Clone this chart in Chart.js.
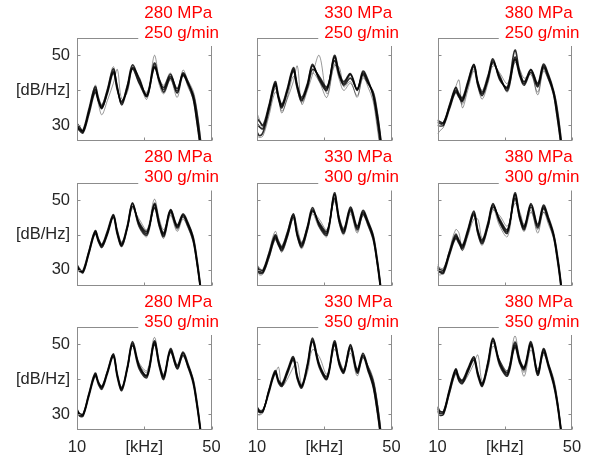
<!DOCTYPE html>
<html>
<head>
<meta charset="utf-8">
<script src="https://cdn.jsdelivr.net/npm/chart.js@4.4.0/dist/chart.umd.min.js"></script>
<style>
  html, body { margin: 0; padding: 0; background: #fff; }
  #wrap { position: relative; width: 590px; height: 461px; overflow: hidden; }
  #wrap canvas { position: absolute; left: 0; top: 0; }
</style>
</head>
<body>
<div id="wrap"></div>
<script>
'use strict';

// frequency points (kHz) shared by every spectrum
const freqKHz = [10, 10.8, 11.8, 13.5, 15.4, 16.4, 17.4, 19, 20.8, 22, 23.3, 25, 26.5, 28.5, 30.8, 33, 34.5, 35.8, 37.8, 39.8, 41.5, 43, 44.5, 45.5, 46.5, 47.5];

const xTicks = [10, 30, 50];
const xTickLabels = ['10', '[kHz]', '50'];
const yTicks = [30, 40, 50];
const yTickLabels = ['30', '[dB/Hz]', '50'];

const pressures = ['280 MPa', '330 MPa', '380 MPa'];
const flowRates = ['250 g/min', '300 g/min', '350 g/min'];

// spectra in dB/Hz, first three are the dense dark band, last two the lighter outliers
const spec280at250 = [
  [30.0, 28.8, 28.6, 34.5, 41.0, 37.5, 35.5, 40.0, 46.2, 40.5, 36.3, 41.5, 47.3, 43.0, 38.8, 47.8, 43.0, 40.8, 44.6, 39.8, 45.0, 42.5, 38.5, 33.0, 26.0, 18],
  [30.5, 29.5, 28.2, 33.8, 40.2, 37.0, 34.8, 39.5, 45.5, 41.0, 35.8, 41.0, 46.5, 43.5, 38.2, 46.8, 42.5, 40.2, 44.0, 40.5, 44.6, 42.0, 39.0, 34.5, 27.5, 19],
  [29.5, 28.5, 27.8, 33.0, 39.5, 36.8, 35.0, 39.0, 45.0, 40.0, 36.8, 40.5, 46.2, 42.0, 38.5, 46.5, 42.8, 39.5, 43.5, 39.3, 44.2, 41.8, 37.8, 32.0, 25.0, 17],
  [30.2, 29.0, 28.0, 33.5, 40.5, 36.0, 33.0, 37.0, 42.0, 46.0, 37.5, 39.5, 46.8, 42.5, 37.5, 50.0, 43.5, 41.5, 45.0, 39.0, 45.8, 42.8, 40.0, 35.5, 28.5, 20],
  [29.8, 28.2, 28.5, 34.0, 41.5, 38.2, 36.0, 40.5, 46.8, 40.8, 37.0, 41.8, 46.0, 42.2, 39.5, 47.2, 41.5, 39.0, 43.0, 38.0, 44.5, 41.0, 37.5, 31.5, 24.5, 16]
];
const spec330at250 = [
  [30.5, 29.5, 29.0, 35.0, 42.0, 38.0, 35.5, 40.0, 46.0, 40.5, 37.0, 41.5, 47.0, 43.5, 40.5, 49.5, 44.5, 42.0, 44.5, 40.0, 45.0, 42.5, 39.0, 34.0, 27.5, 19],
  [28.0, 27.0, 28.0, 34.0, 41.5, 37.5, 35.0, 39.5, 45.5, 41.0, 37.5, 41.0, 46.0, 44.0, 41.0, 48.5, 44.0, 41.5, 43.5, 40.5, 44.5, 42.0, 39.5, 35.0, 28.5, 20],
  [32.0, 31.0, 30.0, 35.5, 42.5, 38.5, 36.0, 40.5, 46.5, 41.5, 38.0, 42.0, 47.5, 43.0, 40.0, 50.0, 45.0, 42.5, 44.8, 40.2, 45.5, 43.0, 38.5, 33.0, 26.0, 18],
  [27.0, 26.5, 27.0, 32.5, 39.5, 38.0, 34.0, 37.5, 42.5, 47.0, 36.0, 40.0, 44.5, 50.0, 39.0, 47.0, 46.5, 41.0, 42.5, 38.0, 44.0, 41.0, 37.0, 31.0, 24.0, 16],
  [33.5, 31.5, 29.5, 34.5, 40.5, 37.5, 33.5, 38.0, 44.0, 40.0, 36.5, 40.5, 45.0, 42.5, 38.0, 47.5, 43.0, 40.0, 42.0, 38.5, 43.5, 42.0, 40.0, 36.0, 29.0, 21]
];
const spec380at250 = [
  [31.0, 30.5, 30.5, 35.0, 40.0, 38.5, 37.2, 42.0, 47.3, 42.0, 39.0, 43.5, 48.5, 43.5, 40.6, 49.5, 44.5, 42.0, 45.8, 41.5, 47.0, 44.0, 39.5, 34.0, 27.0, 18],
  [30.0, 29.8, 30.0, 34.5, 39.5, 38.0, 36.8, 41.5, 46.8, 41.5, 38.5, 43.0, 48.0, 44.0, 40.0, 48.8, 44.0, 41.5, 45.2, 41.0, 46.5, 43.5, 39.0, 33.0, 26.0, 17],
  [31.5, 31.0, 30.8, 35.5, 40.8, 39.0, 37.8, 42.5, 47.5, 42.5, 39.5, 44.0, 49.0, 43.0, 41.0, 51.5, 45.0, 42.5, 46.0, 42.0, 47.5, 44.5, 40.0, 35.0, 28.0, 19],
  [27.5, 28.5, 29.5, 36.0, 41.0, 43.0, 35.0, 40.0, 45.5, 41.0, 37.5, 42.0, 47.0, 44.5, 39.5, 48.0, 45.5, 42.5, 45.0, 38.7, 45.5, 43.0, 40.0, 36.0, 29.0, 20],
  [30.5, 30.0, 31.0, 35.5, 40.5, 38.0, 36.0, 41.0, 46.0, 42.5, 40.0, 44.5, 47.5, 45.0, 42.0, 49.0, 46.0, 43.5, 44.5, 39.5, 46.0, 43.0, 38.5, 32.5, 25.5, 17]
];
const spec280at300 = [
  [31.0, 29.8, 29.5, 35.0, 41.0, 38.5, 36.9, 40.5, 45.5, 40.5, 37.1, 42.5, 48.9, 43.0, 40.5, 48.6, 43.0, 40.0, 47.0, 42.4, 45.7, 43.0, 39.0, 33.5, 26.5, 18],
  [31.5, 30.2, 29.2, 34.5, 40.5, 38.0, 36.5, 40.0, 45.0, 40.0, 36.8, 42.0, 48.2, 43.5, 41.0, 47.8, 42.5, 39.5, 46.5, 42.0, 45.2, 42.5, 38.5, 33.0, 26.0, 17],
  [30.8, 29.5, 29.8, 35.2, 41.2, 38.8, 37.2, 41.0, 45.8, 41.0, 37.5, 42.8, 49.2, 42.5, 40.0, 49.0, 43.5, 40.5, 47.2, 42.8, 46.0, 43.5, 39.5, 34.0, 27.0, 19],
  [31.2, 30.0, 29.5, 34.8, 40.8, 38.2, 36.8, 40.2, 45.2, 41.5, 38.0, 42.0, 47.5, 44.5, 41.5, 50.2, 44.5, 41.5, 46.0, 41.5, 45.5, 43.2, 40.0, 35.0, 28.0, 20],
  [31.0, 29.6, 29.0, 34.2, 40.2, 37.8, 36.2, 40.0, 45.0, 40.2, 36.5, 41.8, 48.0, 42.0, 39.5, 47.5, 42.0, 39.0, 45.5, 41.0, 44.5, 42.0, 38.0, 32.5, 25.5, 17]
];
const spec330at300 = [
  [30.5, 29.5, 29.5, 34.0, 39.5, 37.5, 36.0, 40.0, 45.5, 40.0, 37.0, 42.0, 47.2, 43.0, 40.5, 51.5, 44.0, 41.0, 47.5, 42.0, 46.5, 43.5, 39.5, 34.0, 27.0, 18],
  [30.0, 29.0, 29.2, 33.5, 39.0, 37.0, 35.5, 39.5, 45.0, 39.5, 36.5, 41.5, 46.8, 43.5, 41.0, 50.5, 43.5, 40.5, 47.0, 41.5, 46.0, 43.0, 39.0, 33.5, 26.5, 17],
  [31.0, 30.0, 30.0, 34.5, 40.0, 38.0, 36.5, 40.5, 46.0, 40.5, 37.5, 42.5, 47.8, 42.5, 40.0, 52.0, 44.5, 41.5, 48.0, 42.5, 47.0, 44.0, 40.0, 34.5, 27.5, 19],
  [31.5, 30.5, 29.8, 35.0, 41.0, 38.5, 37.0, 41.0, 46.0, 42.0, 38.0, 42.5, 46.5, 44.5, 41.5, 49.5, 45.0, 42.0, 46.5, 41.0, 45.5, 43.5, 40.5, 35.5, 28.5, 20],
  [29.5, 28.5, 28.8, 33.0, 38.5, 37.0, 35.0, 39.0, 44.5, 39.5, 36.0, 41.0, 46.0, 42.0, 39.5, 50.0, 43.0, 40.0, 46.0, 40.5, 45.5, 42.5, 38.5, 33.0, 25.5, 17]
];
const spec380at300 = [
  [30.5, 29.5, 29.5, 34.5, 39.5, 38.0, 36.5, 41.0, 46.3, 41.0, 38.0, 43.0, 48.6, 44.0, 41.0, 51.5, 45.0, 42.0, 48.6, 42.5, 48.0, 44.5, 40.0, 34.5, 27.5, 18],
  [30.0, 29.2, 29.0, 34.0, 39.0, 37.5, 36.0, 40.5, 45.8, 40.5, 37.5, 42.5, 48.0, 44.5, 41.5, 50.5, 44.5, 41.5, 48.0, 42.0, 47.5, 44.0, 39.5, 34.0, 27.0, 17],
  [31.0, 30.0, 30.0, 35.0, 40.0, 38.5, 37.0, 41.5, 46.8, 41.5, 38.5, 43.5, 49.0, 43.5, 40.5, 52.0, 45.5, 42.5, 49.0, 43.0, 48.5, 45.0, 40.5, 35.0, 28.0, 19],
  [29.0, 28.5, 29.5, 35.5, 41.5, 40.5, 35.5, 39.5, 44.5, 44.5, 39.0, 42.0, 47.0, 45.5, 42.5, 49.0, 46.5, 43.0, 47.0, 40.5, 46.5, 44.0, 40.5, 36.0, 29.0, 20],
  [31.5, 30.5, 30.5, 35.0, 40.5, 38.0, 35.5, 40.0, 45.5, 40.0, 37.0, 42.0, 47.5, 42.5, 39.5, 50.0, 44.0, 41.0, 46.5, 41.5, 46.5, 43.0, 39.0, 33.0, 26.0, 17]
];
const spec280at350 = [
  [31.2, 30.0, 29.8, 35.5, 41.5, 39.0, 37.7, 42.0, 47.0, 41.0, 37.1, 43.5, 50.3, 43.6, 41.2, 50.5, 44.0, 40.5, 48.4, 43.5, 47.5, 44.0, 39.5, 34.0, 27.0, 18],
  [31.0, 29.5, 29.5, 35.0, 41.0, 38.5, 37.2, 41.5, 46.5, 40.5, 36.8, 43.0, 49.8, 43.0, 40.5, 50.0, 43.5, 40.0, 48.0, 43.0, 47.0, 43.5, 39.0, 33.5, 26.5, 17],
  [31.5, 30.2, 30.0, 35.8, 41.8, 39.2, 38.0, 42.2, 47.3, 41.5, 37.5, 43.8, 50.8, 44.0, 41.0, 51.0, 44.5, 41.0, 48.8, 44.0, 47.8, 44.5, 40.0, 34.5, 27.5, 19],
  [31.0, 30.2, 30.2, 35.5, 41.2, 39.0, 37.5, 41.8, 46.8, 41.2, 37.8, 43.0, 49.5, 44.7, 42.5, 52.0, 45.0, 41.5, 47.5, 43.0, 46.5, 44.0, 40.5, 35.5, 28.5, 20],
  [30.8, 29.8, 29.6, 35.2, 41.0, 38.8, 37.5, 41.8, 46.5, 41.0, 37.5, 43.2, 49.5, 44.2, 42.0, 51.0, 44.0, 40.8, 47.8, 43.5, 46.8, 43.5, 39.5, 34.0, 27.0, 18]
];
const spec330at350 = [
  [31.7, 30.7, 31.0, 36.5, 42.2, 39.5, 38.4, 42.0, 46.0, 40.5, 37.9, 44.0, 51.3, 44.1, 40.3, 50.5, 44.5, 42.2, 49.6, 42.2, 47.0, 43.0, 38.5, 33.0, 26.0, 17],
  [32.2, 31.0, 31.2, 36.0, 41.8, 39.0, 38.0, 41.5, 45.5, 40.0, 37.5, 43.5, 50.8, 43.5, 40.0, 50.0, 44.0, 41.8, 49.0, 41.8, 46.5, 42.5, 38.0, 32.5, 25.5, 16],
  [31.2, 30.5, 30.8, 36.8, 42.5, 39.8, 38.8, 42.5, 46.5, 41.0, 38.2, 44.5, 51.8, 44.5, 40.8, 51.0, 45.0, 42.5, 50.0, 42.8, 47.5, 43.5, 39.5, 34.5, 27.5, 18],
  [30.0, 29.8, 30.5, 37.0, 41.5, 43.5, 38.0, 40.0, 43.5, 45.0, 38.5, 42.0, 48.5, 46.5, 41.5, 48.5, 45.5, 43.0, 47.5, 41.0, 46.0, 44.0, 40.5, 35.5, 28.5, 20],
  [32.0, 31.2, 31.5, 36.5, 42.0, 39.5, 38.5, 42.2, 46.2, 40.8, 38.0, 43.8, 50.5, 43.8, 41.0, 49.5, 44.2, 42.0, 48.5, 42.5, 46.8, 43.8, 40.0, 35.0, 28.0, 19]
];
const spec380at350 = [
  [31.7, 30.3, 30.5, 36.5, 42.7, 40.0, 39.3, 42.5, 46.0, 41.5, 38.4, 44.5, 51.5, 44.6, 41.5, 49.8, 45.0, 43.2, 50.3, 41.7, 48.4, 44.0, 39.0, 34.0, 27.0, 18],
  [31.0, 29.8, 30.0, 36.0, 42.0, 39.5, 38.8, 42.0, 45.5, 41.0, 38.0, 44.0, 51.0, 44.0, 41.0, 49.2, 44.5, 42.8, 49.8, 41.2, 47.8, 43.5, 38.5, 33.5, 26.5, 17],
  [32.2, 30.8, 30.8, 37.0, 43.0, 40.5, 39.8, 43.0, 46.5, 42.0, 38.8, 45.0, 51.8, 45.0, 42.0, 50.5, 45.5, 43.5, 50.8, 42.2, 48.8, 44.5, 39.5, 34.5, 27.5, 19],
  [30.5, 29.5, 30.0, 35.5, 41.5, 40.5, 39.0, 41.0, 44.5, 47.0, 39.5, 43.0, 49.5, 45.5, 42.5, 52.4, 45.0, 40.9, 48.5, 41.0, 47.0, 44.0, 40.0, 35.0, 28.0, 19],
  [31.5, 30.8, 31.0, 36.8, 42.5, 41.0, 39.5, 42.8, 46.5, 42.0, 39.0, 45.0, 50.5, 45.5, 42.5, 51.0, 46.0, 42.0, 49.5, 43.0, 47.5, 44.5, 40.5, 35.5, 28.5, 20]
];

// rows = flow rate, columns = pressure
const spectra = [
  [spec280at250, spec330at250, spec380at250],
  [spec280at300, spec330at300, spec380at300],
  [spec280at350, spec330at350, spec380at350]
];

const W = 590;
const H = 461;
const boxLeft = [77, 257, 437.5];
const boxTop = [38, 182.5, 327];
const boxW = 134.5;
const boxH = 103;
const yAxisW = 74;
const xAxisH = 30;
const fontFamily = '"Liberation Sans", Arial, Helvetica, sans-serif';
const tickFont = {family: fontFamily, size: 16.5};
const tickColor = '#262626';

// box with inward ticks plus the two-line red title on a white patch
const framePlugin = {
  id: 'frame',
  afterDraw(chart, args, opts) {
    const ctx = chart.ctx;
    const a = chart.chartArea;
    const xs = chart.scales.x;
    const ys = chart.scales.y;
    const l = Math.round(a.left) + 0.5;
    const t = Math.round(a.top) + 0.5;
    const r = Math.round(a.right) - 0.5;
    const b = Math.round(a.bottom) - 0.5;
    ctx.save();
    ctx.strokeStyle = '#8c8c8c';
    ctx.lineWidth = 1;
    ctx.strokeRect(l, t, r - l, b - t);
    ctx.beginPath();
    xTicks.forEach(v => {
      const px = Math.round(xs.getPixelForValue(v)) + 0.5;
      ctx.moveTo(px, b); ctx.lineTo(px, b - 3);
      ctx.moveTo(px, t); ctx.lineTo(px, t + 3);
    });
    yTicks.forEach(v => {
      const py = Math.round(ys.getPixelForValue(v)) + 0.5;
      ctx.moveTo(l, py); ctx.lineTo(l + 3, py);
      ctx.moveTo(r, py); ctx.lineTo(r - 3, py);
    });
    ctx.stroke();

    const cx = (a.left + a.right) / 2;
    ctx.font = '17px ' + fontFamily;
    const wMax = Math.max(...opts.lines.map(s => ctx.measureText(s).width));
    ctx.fillStyle = '#ffffff';
    ctx.fillRect(cx - 6, a.top - 36, wMax + 8, 44);
    ctx.fillStyle = '#ff0000';
    ctx.textAlign = 'left';
    ctx.textBaseline = 'middle';
    opts.lines.forEach((s, i) => ctx.fillText(s, cx, a.top - 25 + i * 20));
    ctx.restore();
  }
};

function makeDataset(vals, k) {
  const dark = k < 3;
  return {
    data: freqKHz.map((f, i) => ({x: f, y: vals[i]})),
    borderColor: dark ? 'rgba(0,0,0,0.82)' : 'rgba(0,0,0,0.45)',
    borderWidth: dark ? 1.6 : 0.9,
    pointRadius: 0,
    fill: false,
    tension: 0.35,
    clip: 0
  };
}

function drawPanel(row, col) {
  const canvas = document.createElement('canvas');
  canvas.width = W;
  canvas.height = H;
  canvas.style.width = W + 'px';
  canvas.style.height = H + 'px';
  document.getElementById('wrap').appendChild(canvas);

  const left = boxLeft[col];
  const top = boxTop[row];

  new Chart(canvas.getContext('2d'), {
    type: 'line',
    data: {
      datasets: spectra[row][col].map(makeDataset)
    },
    options: {
      responsive: false,
      devicePixelRatio: 1,
      animation: false,
      events: [],
      layout: {
        padding: {
          left: left - yAxisW,
          top: top,
          right: W - (left + boxW),
          bottom: H - (top + boxH) - xAxisH
        }
      },
      plugins: {
        legend: {display: false},
        tooltip: {enabled: false},
        frame: {lines: [pressures[col], flowRates[row]]}
      },
      scales: {
        x: {
          type: 'linear',
          min: 10,
          max: 50,
          grid: {display: false, drawTicks: false},
          border: {display: false},
          afterBuildTicks: s => { s.ticks = xTicks.map(v => ({value: v})); },
          afterFit: s => { s.height = xAxisH; },
          ticks: {
            display: row === 2,
            autoSkip: false,
            maxRotation: 0,
            padding: 8,
            color: tickColor,
            font: tickFont,
            callback: v => xTickLabels[xTicks.indexOf(v)]
          }
        },
        y: {
          type: 'linear',
          min: 25.5,
          max: 55,
          grid: {display: false, drawTicks: false},
          border: {display: false},
          afterBuildTicks: s => { s.ticks = yTicks.map(v => ({value: v})); },
          afterFit: s => { s.width = yAxisW; },
          ticks: {
            display: col === 0,
            autoSkip: false,
            padding: 7,
            color: tickColor,
            font: tickFont,
            callback: v => yTickLabels[yTicks.indexOf(v)]
          }
        }
      }
    },
    plugins: [framePlugin]
  });
}

for (let r = 0; r < 3; r++) {
  for (let c = 0; c < 3; c++) {
    drawPanel(r, c);
  }
}
</script>
</body>
</html>
